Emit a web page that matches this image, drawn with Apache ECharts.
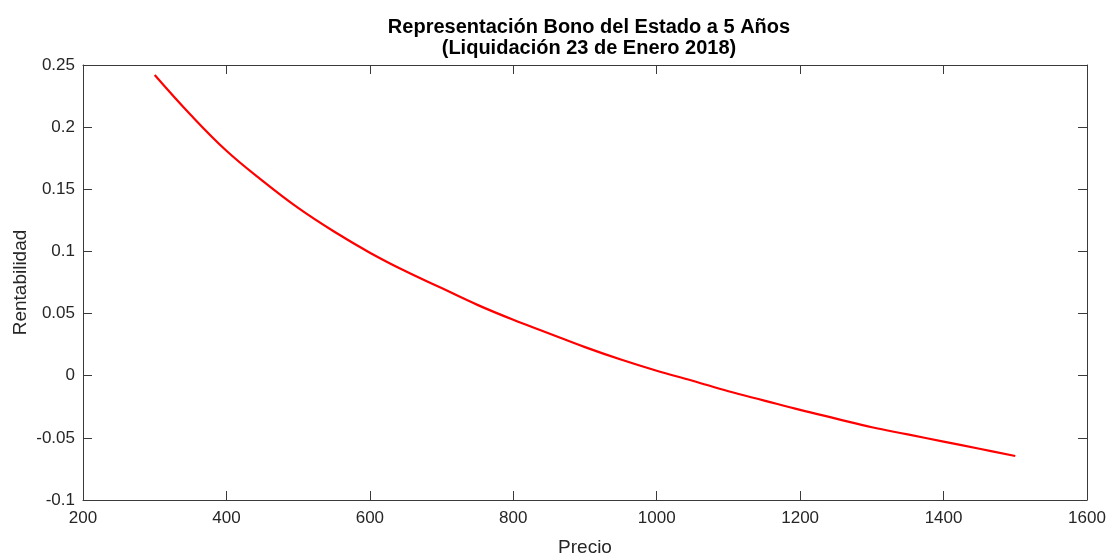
<!doctype html>
<html>
<head>
<meta charset="UTF-8">
<title>Bono del Estado</title>
<script src="https://cdn.jsdelivr.net/npm/echarts@6/dist/echarts.min.js"></script>
<style>
  html, body { margin: 0; padding: 0; background: #fff; }
  #chart { width: 1109px; height: 553px; }
</style>
</head>
<body>
<div id="chart"></div>
<script>
  // precio (x) y rentabilidad (y)
  var precio = [300, 350, 400, 450, 500, 550, 600, 650, 700, 750, 800, 850, 900,
                950, 1000, 1050, 1100, 1150, 1200, 1250, 1300, 1350, 1400, 1450, 1500];
  var rentabilidad = [0.242, 0.210, 0.181, 0.157, 0.135, 0.116, 0.099, 0.084, 0.0705,
                      0.057, 0.045, 0.034, 0.023, 0.013, 0.004, -0.004, -0.0125, -0.020,
                      -0.0275, -0.0345, -0.0415, -0.0472, -0.053, -0.0588, -0.0646];
  var xTicks = [200, 400, 600, 800, 1000, 1200, 1400, 1600];
  var yTicks = [-0.1, -0.05, 0, 0.05, 0.1, 0.15, 0.2, 0.25];

  var datos = [];
  for (var i = 0; i < precio.length; i++) {
    datos.push([precio[i], rentabilidad[i]]);
  }

  var fuente = 'Liberation Sans, Arial, Helvetica, sans-serif';
  var ejeColor = '#3a3a3a';
  var textoColor = '#262626';

  function ejeX(pos, etiquetas) {
    return {
      type: 'value', position: pos,
      min: xTicks[0], max: xTicks[xTicks.length - 1], interval: 200,
      axisLine: { show: true, onZero: false, lineStyle: { color: ejeColor, width: 1 } },
      axisTick: { show: true, inside: true, length: 9, lineStyle: { color: ejeColor } },
      axisLabel: {
        show: etiquetas, color: textoColor, fontSize: 17, fontFamily: fuente, margin: 10,
        formatter: function (v) { return String(v); }
      },
      splitLine: { show: false }
    };
  }
  function ejeY(pos, etiquetas) {
    return {
      type: 'value', position: pos,
      min: yTicks[0], max: yTicks[yTicks.length - 1], interval: 0.05,
      axisLine: { show: true, onZero: false, lineStyle: { color: ejeColor, width: 1 } },
      axisTick: { show: true, inside: true, length: 9, lineStyle: { color: ejeColor } },
      axisLabel: {
        show: etiquetas, color: textoColor, fontSize: 17, fontFamily: fuente, margin: 8,
        padding: [4, 0, 0, 0],
        formatter: function (v) { return String(parseFloat(v.toFixed(2))); }
      },
      splitLine: { show: false }
    };
  }

  var xb = ejeX('bottom', true);
  xb.name = 'Precio';
  xb.nameLocation = 'middle';
  xb.nameGap = 38;
  xb.nameTextStyle = { color: textoColor, fontSize: 19, fontFamily: fuente };
  var yl = ejeY('left', true);
  yl.name = 'Rentabilidad';
  yl.nameLocation = 'middle';
  yl.nameGap = 53;
  yl.nameMoveOverlap = false;
  yl.nameTextStyle = { color: textoColor, fontSize: 19, fontFamily: fuente };

  var chart = echarts.init(document.getElementById('chart'));
  chart.setOption({
    animation: false,
    title: {
      text: 'Representación Bono del Estado a 5 Años\n(Liquidación 23 de Enero 2018)',
      left: 584, top: 12, textAlign: 'center',
      textStyle: { color: '#000', fontSize: 20, fontWeight: 'bold', fontFamily: fuente, lineHeight: 21 }
    },
    grid: { left: 83, right: 22, top: 65, bottom: 53, containLabel: false, outerBoundsMode: 'none' },
    xAxis: [xb, ejeX('top', false)],
    yAxis: [yl, ejeY('right', false)],
    series: [{
      type: 'line',
      xAxisIndex: 0, yAxisIndex: 0,
      data: datos,
      smooth: 0.4,
      showSymbol: false,
      lineStyle: { color: '#ff0000', width: 2.2 }
    }]
  });
</script>
</body>
</html>
